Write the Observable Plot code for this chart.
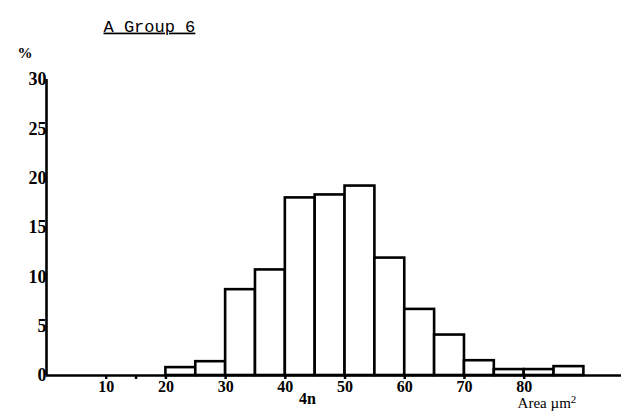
<!DOCTYPE html>
<html>
<head>
<meta charset="utf-8">
<script src="https://cdn.jsdelivr.net/npm/d3@7"></script>
<script src="https://cdn.jsdelivr.net/npm/@observablehq/plot@0.6"></script>
<style>
  html, body { margin: 0; padding: 0; background: #fff; }
</style>
</head>
<body>
<div id="chart"></div>
<script>
// Histogram bins (area, µm²) and percentages
const binStart = [20, 25, 30, 35, 40, 45, 50, 55, 60, 65, 70, 75, 80, 85];
const percent  = [0.8, 1.4, 8.7, 10.7, 18.0, 18.3, 19.2, 11.9, 6.7, 4.1, 1.5, 0.6, 0.6, 0.9];
const binWidth = 5;
const xTickValues = [10, 20, 30, 40, 50, 60, 70, 80];
const xMinorTicks = [15];
const yTickValues = [0, 5, 10, 15, 20, 25, 30];
const titleText = "A Group 6";
const yLabelText = "%";
const xLabelText = "Area µm";
const xLabelSup = "2";
const xLabelAt = 78.9;
const fourNText = "4n";
const fourNAt = 43.7;

const bins = binStart.map((s, i) => ({x1: s, x2: s + binWidth, pct: percent[i]}));

const plot = Plot.plot({
  width: 621,
  height: 415,
  marginLeft: 46,
  marginRight: 0,
  marginTop: 79,
  marginBottom: 40,
  style: {background: "#fff", color: "#000", fontFamily: "'Liberation Serif', serif", fontSize: "17px", fontWeight: "bold"},
  x: {domain: [0, 96.3]},
  y: {domain: [0, 30]},
  marks: [
    Plot.rectY(bins, {x1: "x1", x2: "x2", y: "pct", fill: "#fff", stroke: "#000", strokeWidth: 2.6}),
    Plot.ruleY([0], {stroke: "#000", strokeWidth: 2.6}),
    Plot.ruleX([0], {y1: 0, y2: 30, stroke: "#000", strokeWidth: 2.6}),
    Plot.axisX({ticks: xTickValues, tickSize: 4, tickPadding: 1, label: null, strokeWidth: 2.5, fontSize: 16}),
    Plot.axisX({ticks: xMinorTicks, tickSize: 4, tickFormat: () => "", label: null, strokeWidth: 2.5}),
    Plot.axisY({ticks: yTickValues, tickSize: 0, tickPadding: 0, label: null, fontSize: 18}),
    Plot.text([fourNText], {x: () => fourNAt, frameAnchor: "bottom", dy: 28, text: d => d, fontSize: 16}),
    Plot.text([xLabelText], {x: () => xLabelAt, frameAnchor: "bottom", dy: 32, text: d => d, textAnchor: "start", fontSize: 15, fontWeight: "normal"}),
    Plot.text([titleText], {frameAnchor: "top-left", dx: 57, dy: -60, text: d => d, textAnchor: "start", fontFamily: "'Liberation Mono', monospace", fontSize: 17, fontWeight: "normal"}),
    Plot.text([yLabelText], {frameAnchor: "top-left", dx: -29, dy: -32, text: d => d, fontSize: 15})
  ]
});

d3.select(plot).selectAll("text")
  .filter(function() { return this.textContent === titleText; })
  .attr("text-decoration", "underline");

d3.select(plot).selectAll("text")
  .filter(function() { return this.textContent === xLabelText; })
  .append("tspan")
  .attr("dy", "-0.45em")
  .attr("font-size", "11px")
  .text(xLabelSup);

document.getElementById("chart").appendChild(plot);
</script>
</body>
</html>
